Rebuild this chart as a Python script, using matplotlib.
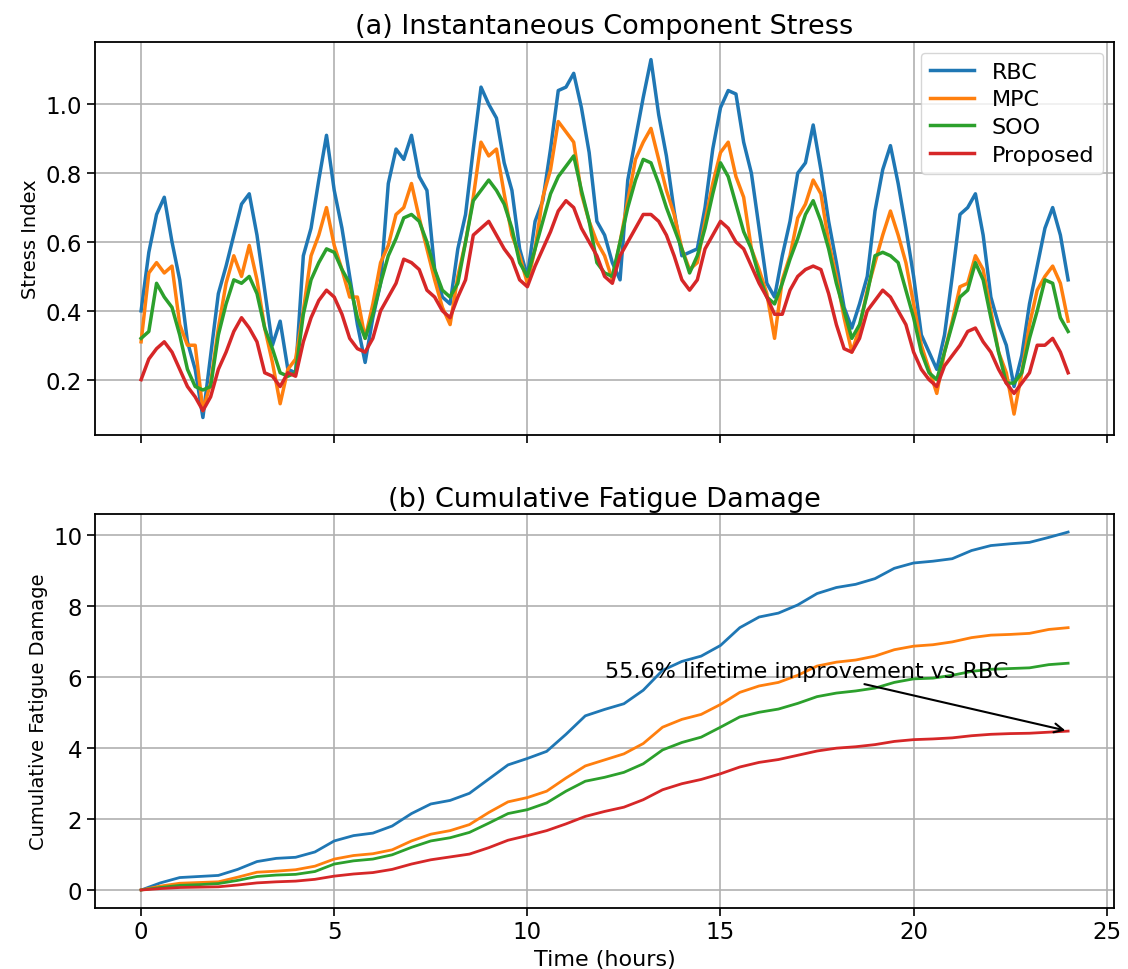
# %% Libraries
import numpy as np
import matplotlib.pyplot as plt

# %% Data
# --+ stress index, sampled every 0.2 h
t_stress = np.linspace(0, 24, 121)
rbc_stress = [
    0.40, 0.57, 0.68, 0.73, 0.60, 0.49, 0.31, 0.23, 0.09, 0.27,
    0.45, 0.53, 0.62, 0.71, 0.74, 0.62, 0.46, 0.30, 0.37, 0.23,
    0.22, 0.56, 0.64, 0.78, 0.91, 0.75, 0.64, 0.50, 0.36, 0.25,
    0.38, 0.48, 0.77, 0.87, 0.84, 0.91, 0.79, 0.75, 0.52, 0.44,
    0.42, 0.58, 0.68, 0.87, 1.05, 1.00, 0.96, 0.83, 0.75, 0.58,
    0.50, 0.66, 0.72, 0.87, 1.04, 1.05, 1.09, 0.99, 0.86, 0.66,
    0.62, 0.54, 0.49, 0.78, 0.90, 1.02, 1.13, 0.97, 0.85, 0.69,
    0.56, 0.57, 0.58, 0.70, 0.87, 0.99, 1.04, 1.03, 0.89, 0.80,
    0.64, 0.48, 0.44, 0.56, 0.66, 0.80, 0.83, 0.94, 0.81, 0.66,
    0.54, 0.41, 0.35, 0.42, 0.50, 0.69, 0.81, 0.88, 0.77, 0.64,
    0.50, 0.33, 0.28, 0.23, 0.33, 0.50, 0.68, 0.70, 0.74, 0.62,
    0.44, 0.36, 0.30, 0.18, 0.27, 0.42, 0.53, 0.64, 0.70, 0.62,
    0.49]
mpc_stress = [
    0.31, 0.51, 0.54, 0.51, 0.53, 0.36, 0.30, 0.30, 0.11, 0.19,
    0.35, 0.48, 0.56, 0.50, 0.59, 0.49, 0.35, 0.25, 0.13, 0.23,
    0.26, 0.40, 0.56, 0.62, 0.70, 0.59, 0.52, 0.44, 0.44, 0.32,
    0.42, 0.54, 0.59, 0.68, 0.70, 0.77, 0.67, 0.58, 0.49, 0.41,
    0.36, 0.50, 0.60, 0.73, 0.89, 0.85, 0.87, 0.74, 0.62, 0.56,
    0.48, 0.58, 0.73, 0.81, 0.95, 0.92, 0.89, 0.74, 0.66, 0.60,
    0.56, 0.49, 0.60, 0.72, 0.84, 0.89, 0.93, 0.84, 0.75, 0.68,
    0.58, 0.52, 0.54, 0.66, 0.77, 0.86, 0.89, 0.79, 0.73, 0.58,
    0.52, 0.45, 0.32, 0.49, 0.56, 0.67, 0.71, 0.78, 0.74, 0.60,
    0.50, 0.38, 0.28, 0.35, 0.46, 0.54, 0.62, 0.69, 0.62, 0.54,
    0.42, 0.30, 0.23, 0.16, 0.28, 0.37, 0.47, 0.48, 0.56, 0.52,
    0.40, 0.28, 0.22, 0.10, 0.22, 0.36, 0.46, 0.50, 0.53, 0.48,
    0.37]
soo_stress = [
    0.32, 0.34, 0.48, 0.44, 0.41, 0.33, 0.23, 0.18, 0.17, 0.18,
    0.33, 0.42, 0.49, 0.48, 0.50, 0.45, 0.35, 0.29, 0.22, 0.21,
    0.22, 0.39, 0.49, 0.54, 0.58, 0.57, 0.52, 0.48, 0.38, 0.32,
    0.39, 0.48, 0.56, 0.61, 0.67, 0.68, 0.66, 0.60, 0.52, 0.46,
    0.44, 0.48, 0.60, 0.72, 0.75, 0.78, 0.75, 0.71, 0.64, 0.54,
    0.50, 0.58, 0.66, 0.74, 0.79, 0.82, 0.85, 0.75, 0.66, 0.54,
    0.51, 0.50, 0.60, 0.70, 0.78, 0.84, 0.83, 0.77, 0.70, 0.64,
    0.58, 0.51, 0.56, 0.64, 0.74, 0.83, 0.79, 0.71, 0.63, 0.58,
    0.50, 0.44, 0.42, 0.48, 0.55, 0.61, 0.68, 0.72, 0.66, 0.58,
    0.48, 0.40, 0.32, 0.36, 0.45, 0.56, 0.57, 0.56, 0.54, 0.46,
    0.38, 0.28, 0.22, 0.20, 0.28, 0.36, 0.44, 0.46, 0.54, 0.49,
    0.38, 0.28, 0.19, 0.19, 0.22, 0.32, 0.40, 0.49, 0.48, 0.38,
    0.34]
prop_stress = [
    0.20, 0.26, 0.29, 0.31, 0.28, 0.23, 0.18, 0.15, 0.11, 0.15,
    0.23, 0.28, 0.34, 0.38, 0.35, 0.31, 0.22, 0.21, 0.18, 0.22,
    0.21, 0.31, 0.38, 0.43, 0.46, 0.44, 0.39, 0.32, 0.29, 0.28,
    0.32, 0.40, 0.44, 0.48, 0.55, 0.54, 0.52, 0.46, 0.44, 0.40,
    0.38, 0.44, 0.49, 0.62, 0.64, 0.66, 0.62, 0.58, 0.55, 0.49,
    0.47, 0.53, 0.58, 0.63, 0.69, 0.72, 0.70, 0.64, 0.60, 0.56,
    0.50, 0.48, 0.56, 0.60, 0.64, 0.68, 0.68, 0.66, 0.62, 0.56,
    0.49, 0.46, 0.49, 0.58, 0.62, 0.66, 0.64, 0.60, 0.58, 0.53,
    0.48, 0.44, 0.39, 0.39, 0.46, 0.50, 0.52, 0.53, 0.52, 0.45,
    0.36, 0.29, 0.28, 0.32, 0.40, 0.43, 0.46, 0.44, 0.40, 0.36,
    0.28, 0.23, 0.20, 0.18, 0.24, 0.27, 0.30, 0.34, 0.35, 0.31,
    0.28, 0.23, 0.19, 0.16, 0.19, 0.22, 0.30, 0.30, 0.32, 0.28,
    0.22]

# --+ cumulative fatigue damage, sampled every 0.5 h
t_cum = np.linspace(0, 24, 49)
rbc_cum = [
    0.00, 0.20, 0.35, 0.38, 0.41, 0.58, 0.80, 0.89, 0.92, 1.07,
    1.38, 1.53, 1.60, 1.80, 2.15, 2.42, 2.52, 2.72, 3.12, 3.52,
    3.70, 3.90, 4.38, 4.90, 5.08, 5.24, 5.62, 6.18, 6.43, 6.58,
    6.88, 7.38, 7.68, 7.79, 8.02, 8.34, 8.51, 8.60, 8.76, 9.05,
    9.20, 9.25, 9.32, 9.55, 9.69, 9.74, 9.78, 9.92, 10.07]
mpc_cum = [
    0.00, 0.11, 0.19, 0.21, 0.23, 0.36, 0.50, 0.53, 0.57, 0.67,
    0.87, 0.97, 1.02, 1.13, 1.38, 1.57, 1.67, 1.84, 2.18, 2.48,
    2.60, 2.78, 3.15, 3.49, 3.66, 3.83, 4.12, 4.58, 4.80, 4.94,
    5.22, 5.56, 5.74, 5.84, 6.04, 6.30, 6.41, 6.47, 6.58, 6.76,
    6.86, 6.90, 6.98, 7.10, 7.17, 7.19, 7.22, 7.33, 7.38]
soo_cum = [
    0.00, 0.07, 0.13, 0.15, 0.18, 0.27, 0.38, 0.42, 0.44, 0.52,
    0.73, 0.82, 0.87, 0.99, 1.20, 1.38, 1.47, 1.62, 1.88, 2.15,
    2.26, 2.45, 2.78, 3.06, 3.17, 3.31, 3.55, 3.94, 4.15, 4.30,
    4.58, 4.87, 5.00, 5.09, 5.25, 5.44, 5.54, 5.60, 5.68, 5.84,
    5.94, 5.96, 6.04, 6.15, 6.21, 6.23, 6.25, 6.34, 6.38]
prop_cum = [
    0.00, 0.04, 0.07, 0.08, 0.09, 0.14, 0.20, 0.23, 0.25, 0.30,
    0.39, 0.45, 0.49, 0.58, 0.73, 0.85, 0.93, 1.01, 1.19, 1.40,
    1.53, 1.67, 1.86, 2.07, 2.21, 2.33, 2.54, 2.82, 2.99, 3.11,
    3.27, 3.46, 3.59, 3.67, 3.79, 3.91, 3.99, 4.03, 4.09, 4.18,
    4.23, 4.25, 4.28, 4.34, 4.38, 4.40, 4.41, 4.44, 4.47]

labels = ['RBC', 'MPC', 'SOO', 'Proposed']
colors = ['tab:blue', 'tab:orange', 'tab:green', 'tab:red']

# %% Figure
fig, (ax_0, ax_1) = plt.subplots(2, 1, sharex=True, figsize=(11.28, 9.7), dpi=100)
fig.subplots_adjust(left=0.084, right=0.988, top=0.956, bottom=0.063, hspace=0.2)

# --+ (a) stress
for series, label, color in zip([rbc_stress, mpc_stress, soo_stress, prop_stress], labels, colors):
    ax_0.plot(t_stress, series, color=color, lw=2.5, label=label)
ax_0.set_title('(a) Instantaneous Component Stress', fontsize=19.5)
ax_0.set_ylabel('Stress Index', fontsize=14)
ax_0.legend(loc='upper right', fontsize=16, labelspacing=0.35)

# --+ (b) cumulative damage
for series, label, color in zip([rbc_cum, mpc_cum, soo_cum, prop_cum], labels, colors):
    ax_1.plot(t_cum, series, color=color, lw=2.0, label=label)
ax_1.set_title('(b) Cumulative Fatigue Damage', fontsize=19.5)
ax_1.set_ylabel('Cumulative Fatigue Damage', fontsize=14)
ax_1.set_xlabel('Time (hours)', fontsize=16)
ax_1.annotate('55.6% lifetime improvement vs RBC',
              xy=(t_cum[-1], prop_cum[-1]), xytext=(12, 6.0),
              fontsize=16,
              arrowprops=dict(arrowstyle='->', color='black', lw=1.5))

# --+ styling
for ax in (ax_0, ax_1):
    ax.grid(True, color='#b0b0b0', lw=1.2)
    ax.tick_params(labelsize=16.5, length=5.5, width=1.2)
    for spine in ax.spines.values():
        spine.set_linewidth(1.3)

fig.savefig('out.png', dpi=100)
